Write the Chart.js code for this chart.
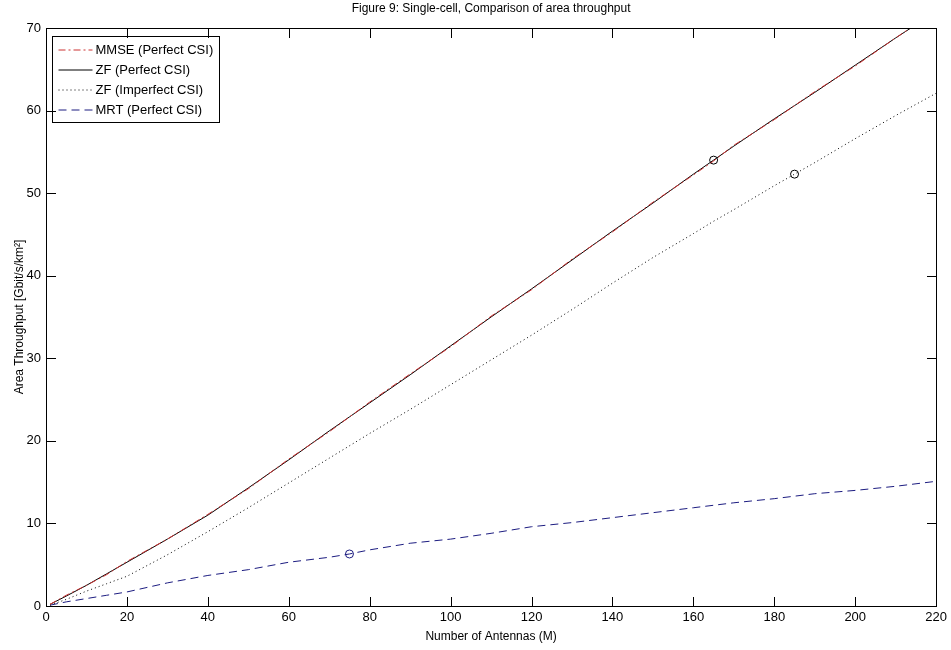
<!DOCTYPE html>
<html>
<head>
<meta charset="utf-8">
<script src="https://cdn.jsdelivr.net/npm/chart.js@4.4.0/dist/chart.umd.min.js"></script>
<style>
  html, body { margin: 0; padding: 0; background: #fff; }
</style>
</head>
<body>
<canvas id="grafico" width="951" height="650"></canvas>
<script>
// number of antennas (M)
const antennas = [1, 5, 10, 15, 20, 30, 40, 50, 60, 70, 75, 80, 90, 100, 110, 120, 130, 140, 150, 160, 165, 170, 180, 185, 190, 200, 210, 220];

// area throughput [Gbit/s/km2]
const mmsePerfect = [0.2, 1.3, 2.5, 3.8, 5.4, 8.1, 11.1, 14.2, 17.8, 21.1, 22.9, 24.7, 28.1, 31.4, 35.1, 38.3, 42.0, 45.3, 48.9, 52.2, 53.9, 55.8, 58.9, 60.6, 62.3, 65.4, 68.8, 72.1];
const zfPerfect = [0.2, 1.2, 2.5, 3.9, 5.3, 8.1, 11.0, 14.3, 17.7, 21.2, 22.9, 24.6, 28.0, 31.5, 35.0, 38.4, 41.9, 45.4, 48.8, 52.3, 54.0, 55.7, 59.0, 60.6, 62.2, 65.5, 68.8, 72.0];
const zfImperfect = [0.1, 0.8, 1.8, 2.7, 3.6, 6.2, 9.0, 11.9, 14.9, 17.9, 19.4, 20.9, 23.8, 26.8, 29.8, 32.8, 35.9, 39.1, 42.2, 45.1, 46.6, 48.0, 50.9, 52.3, 53.7, 56.6, 59.4, 62.1];
const mrtPerfect = [0.1, 0.5, 0.9, 1.3, 1.7, 2.8, 3.7, 4.4, 5.3, 5.9, 6.3, 6.8, 7.6, 8.1, 8.8, 9.6, 10.1, 10.7, 11.3, 11.9, 12.2, 12.5, 13.0, 13.3, 13.6, 14.0, 14.5, 15.1];

// where each curve carries its single circle marker
const markerAt = { zfPerfect: 165, zfImperfect: 185, mrtPerfect: 75 };

const xTicks = [0, 20, 40, 60, 80, 100, 120, 140, 160, 180, 200, 220];
const yTicks = [0, 10, 20, 30, 40, 50, 60, 70];

const titulo = 'Figure 9: Single-cell, Comparison of area throughput';
const fonte = "'Liberation Sans Narrow', 'Arial Narrow', 'Liberation Sans', Arial, sans-serif";

function pares(valores) {
    return antennas.map((m, i) => ({ x: m, y: valores[i] }));
}

function raios(m) {
    return antennas.map(a => (a === m ? 4 : 0));
}

function traco(c, x1, y1, x2, y2) {
    c.beginPath();
    c.moveTo(x1, y1);
    c.lineTo(x2, y2);
    c.stroke();
}

// moldura + titulo + legenda + ticks para dentro (desenhados por ultimo)
const estiloMatlab = {
    id: 'estiloMatlab',
    afterDraw(chart) {
        const c = chart.ctx;
        const a = chart.chartArea;
        const sx = chart.scales.x;
        const sy = chart.scales.y;
        const l = Math.round(a.left), r = Math.round(a.right);
        const t = Math.round(a.top), b = Math.round(a.bottom);
        c.save();
        c.fillStyle = '#000';
        c.font = '12px ' + fonte;
        c.strokeStyle = '#000000';
        c.lineWidth = 1;
        c.setLineDash([]);
        c.strokeRect(l + 0.5, t + 0.5, r - l, b - t);

        // titulo centrado na area do grafico
        c.textAlign = 'center';
        c.textBaseline = 'middle';
        c.fillText(titulo, (a.left + a.right) / 2, 9);

        // legenda
        c.font = '13px ' + fonte;
        c.textAlign = 'left';
        let larg = 0;
        chart.data.datasets.forEach(ds => { larg = Math.max(larg, c.measureText(ds.label).width); });
        const lx = 52.5, ly = 36.5, lw = Math.round(43 + larg + 6), lh = 86;
        c.fillStyle = '#fff';
        c.fillRect(lx, ly, lw, lh);
        c.strokeRect(lx, ly, lw, lh);
        chart.data.datasets.forEach((ds, i) => {
            const y = ly + 13.5 + i * 20;
            c.strokeStyle = ds.borderColor;
            c.setLineDash(ds.borderDash || []);
            traco(c, lx + 6, y, lx + 40, y);
            c.fillStyle = '#000';
            c.fillText(ds.label, lx + 43, y);
        });

        // ticks: retangulos de 1px, posicao dada pelas escalas
        c.fillStyle = '#000000';
        xTicks.forEach(v => {
            const px = Math.round(sx.getPixelForValue(v));
            c.fillRect(px, b - 9, 1, 10);
            c.fillRect(px, t, 1, 10);
        });
        yTicks.forEach(v => {
            const py = Math.round(sy.getPixelForValue(v));
            c.fillRect(l, py, 10, 1);
            c.fillRect(r - 9, py, 10, 1);
        });
        c.restore();
    }
};

const grafico = new Chart(document.getElementById('grafico'), {
    type: 'line',
    data: {
        datasets: [
            {
                label: 'MMSE (Perfect CSI)',
                data: pares(mmsePerfect),
                borderColor: '#cc3333',
                borderDash: [7, 3, 2, 3],
                borderWidth: 1,
                pointRadius: 0
            },
            {
                label: 'ZF (Perfect CSI)',
                data: pares(zfPerfect),
                borderColor: '#000000',
                borderWidth: 1,
                pointRadius: raios(markerAt.zfPerfect),
                pointBorderColor: '#000000',
                pointBackgroundColor: 'rgba(0,0,0,0)',
                pointBorderWidth: 1
            },
            {
                label: 'ZF (Imperfect CSI)',
                data: pares(zfImperfect),
                borderColor: '#000000',
                borderDash: [1, 3],
                borderWidth: 1,
                pointRadius: raios(markerAt.zfImperfect),
                pointBorderColor: '#000000',
                pointBackgroundColor: 'rgba(0,0,0,0)',
                pointBorderWidth: 1
            },
            {
                label: 'MRT (Perfect CSI)',
                data: pares(mrtPerfect),
                borderColor: '#1c1c80',
                borderDash: [8, 5],
                borderWidth: 1,
                pointRadius: raios(markerAt.mrtPerfect),
                pointBorderColor: '#1c1c80',
                pointBackgroundColor: 'rgba(0,0,0,0)',
                pointBorderWidth: 1
            }
        ]
    },
    options: {
        responsive: false,
        animation: false,
        events: [],
        layout: { padding: { left: 0, right: 14, top: 28, bottom: 0 } },
        plugins: {
            legend: { display: false },
            tooltip: { enabled: false },
            title: { display: false }
        },
        scales: {
            x: {
                type: 'linear',
                min: 0,
                max: 220,
                afterBuildTicks: s => { s.ticks = xTicks.map(v => ({ value: v })); },
                grid: { display: false, drawTicks: false },
                border: { display: false },
                ticks: { color: '#000', padding: 4, maxRotation: 0, font: { family: fonte, size: 13 } },
                title: {
                    display: true,
                    text: 'Number of Antennas (M)',
                    color: '#000',
                    font: { family: fonte, size: 12 },
                    padding: { top: 0, bottom: 6 }
                },
                afterFit: s => { s.height = 44; }
            },
            y: {
                type: 'linear',
                min: 0,
                max: 70,
                afterBuildTicks: s => { s.ticks = yTicks.map(v => ({ value: v })); },
                grid: { display: false, drawTicks: false },
                border: { display: false },
                ticks: { color: '#000', padding: 5, font: { family: fonte, size: 13 } },
                title: {
                    display: true,
                    text: 'Area Throughput [Gbit/s/km²]',
                    color: '#000',
                    font: { family: fonte, size: 12 },
                    padding: { top: 12, bottom: 0 }
                },
                afterFit: s => { s.width = 46; }
            }
        }
    },
    plugins: [estiloMatlab]
});
</script>
</body>
</html>
